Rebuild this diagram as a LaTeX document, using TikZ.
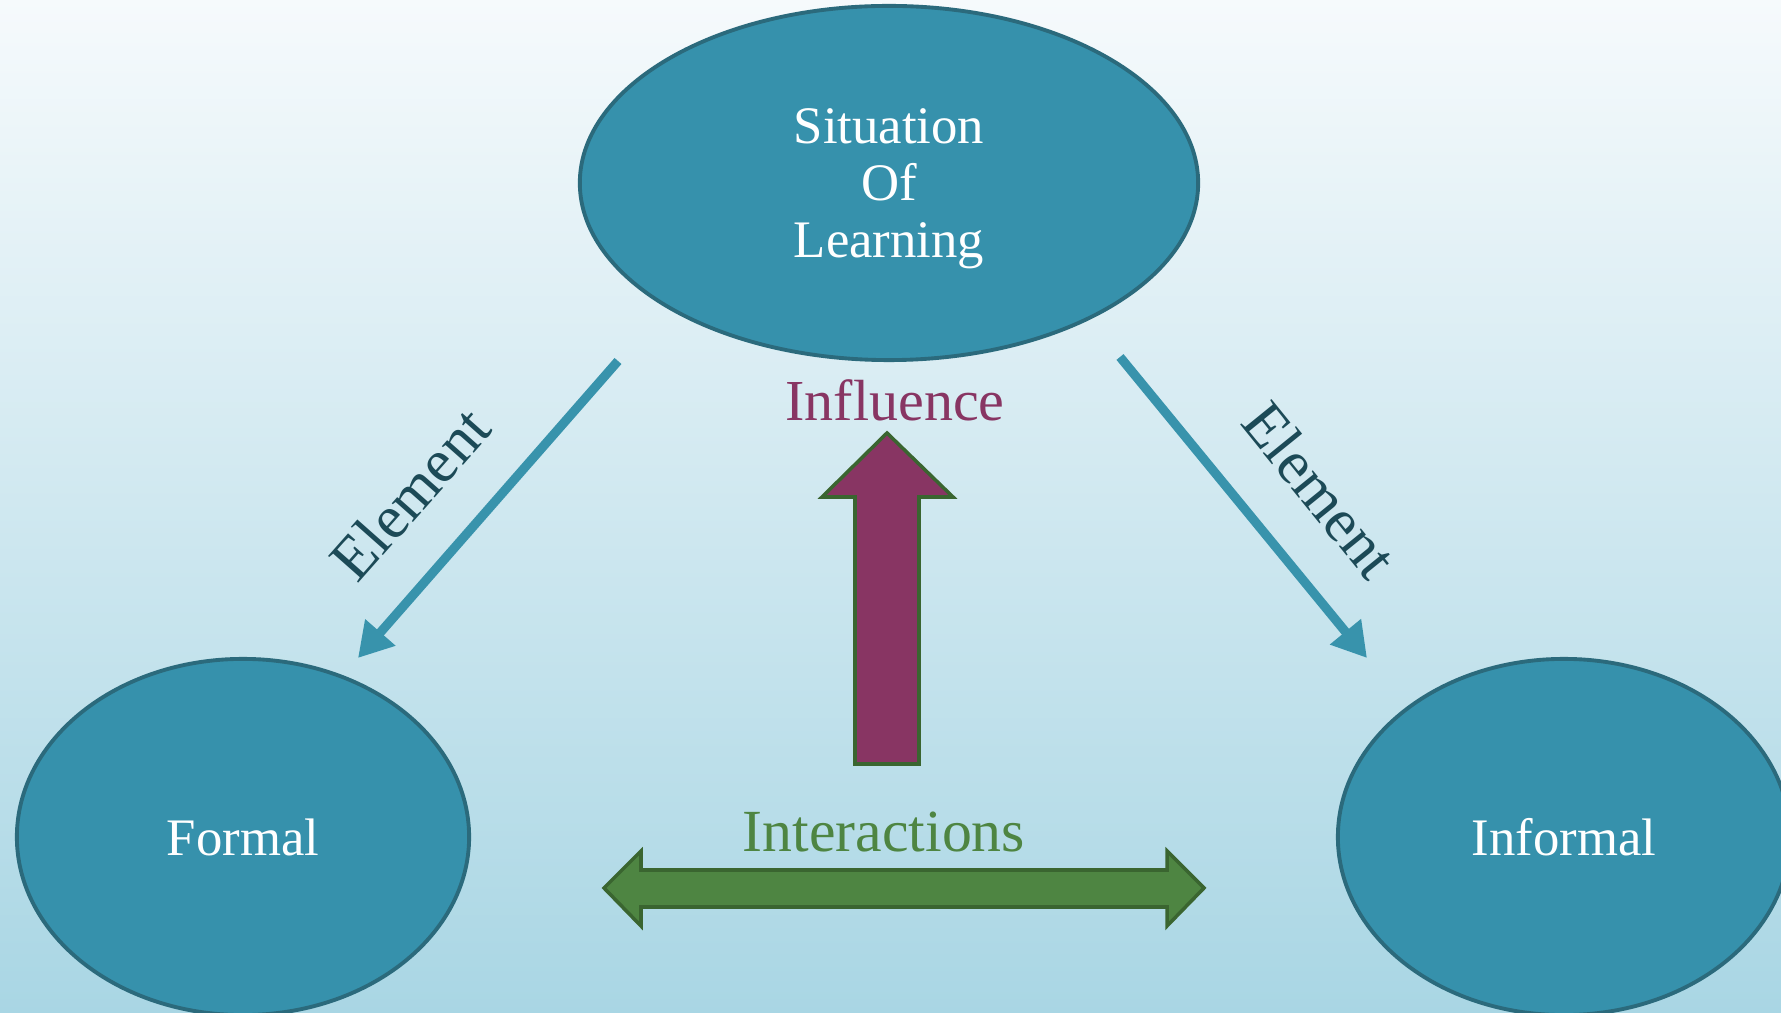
\documentclass[tikz,border=0pt]{standalone}
\usepackage{fontspec}
\setmainfont{Liberation Serif}
\usetikzlibrary{shapes.geometric,arrows.meta}
\definecolor{ovalteal}{HTML}{3691AC}
\definecolor{ovalborder}{HTML}{2B6A7C}
\definecolor{arrowteal}{HTML}{3893AC}
\definecolor{elemtext}{HTML}{1C4A57}
\definecolor{inflpurple}{HTML}{883563}
\definecolor{interactgreen}{HTML}{4E8542}
\definecolor{blockborder}{HTML}{3A6530}
\definecolor{bgtop}{HTML}{F6FAFC}
\definecolor{bgbottom}{HTML}{A9D6E4}
\begin{document}
\begin{tikzpicture}
[x=0.01cm,y=-0.01cm,
  ovaldecorate/.style={shape=ellipse,draw=ovalborder,fill=ovalteal,line width=1.1pt,text=white,inner sep=0pt,align=center,font=\fontsize{15}{16.2}\selectfont},%
  arrowdecorate/.style={-{Triangle[length=0.34cm,width=0.38cm]},line width=2.6pt,draw=arrowteal},%
  elementdecorate/.style={text=elemtext,font=\fontsize{17.5}{20}\selectfont},%
  blockdecorate/.style={draw=blockborder,line width=1pt,line join=miter}]
\useasboundingbox (0,0) rectangle (1781,1013);
% background
\shade[top color=bgtop,bottom color=bgbottom] (0,0) rectangle (1781,1013);
% nodes or ellipses
\node (sol) at (889,183) [ovaldecorate,text depth=0pt,minimum width=6.18cm,minimum height=3.54cm] {Situation\\Of\\Learning};
\node (formal) at (243,837) [ovaldecorate,minimum width=4.52cm,minimum height=3.56cm] {Formal};
\node (informal) at (1564,837) [ovaldecorate,minimum width=4.52cm,minimum height=3.56cm] {Informal};
% ends of the element arrows
\coordinate (sol-l) at (618,361);
\coordinate (formal-t) at (358,658);
\coordinate (sol-r) at (1120,357);
\coordinate (informal-t) at (1367,658);
% edges or lines
\path
(sol-l) edge[arrowdecorate] node {} (formal-t)
(sol-r) edge[arrowdecorate] node {} (informal-t);
\node (elemleft) at (410,494) [elementdecorate,rotate=48.5] {Element};
\node (elemright) at (1320,490) [elementdecorate,rotate=-51] {Element};
% influence arrow
\draw[blockdecorate,fill=inflpurple] (855,764) -- (855,497) -- (822,497) -- (887,433) -- (953,497) -- (919,497) -- (919,764) -- cycle;
\node (influence) at (895,421) [anchor=base,text=inflpurple,font=\fontsize{16.5}{18}\selectfont] {Influence};
% interactions arrow
\draw[blockdecorate,fill=interactgreen] (604,888) -- (641,851) -- (641,870) -- (1167,870) -- (1167,851) -- (1204,888) -- (1167,926) -- (1167,907) -- (641,907) -- (641,926) -- cycle;
\node (interactions) at (884,852) [anchor=base,text=interactgreen,font=\fontsize{17}{20}\selectfont] {Interactions};
\end{tikzpicture}
\end{document}
